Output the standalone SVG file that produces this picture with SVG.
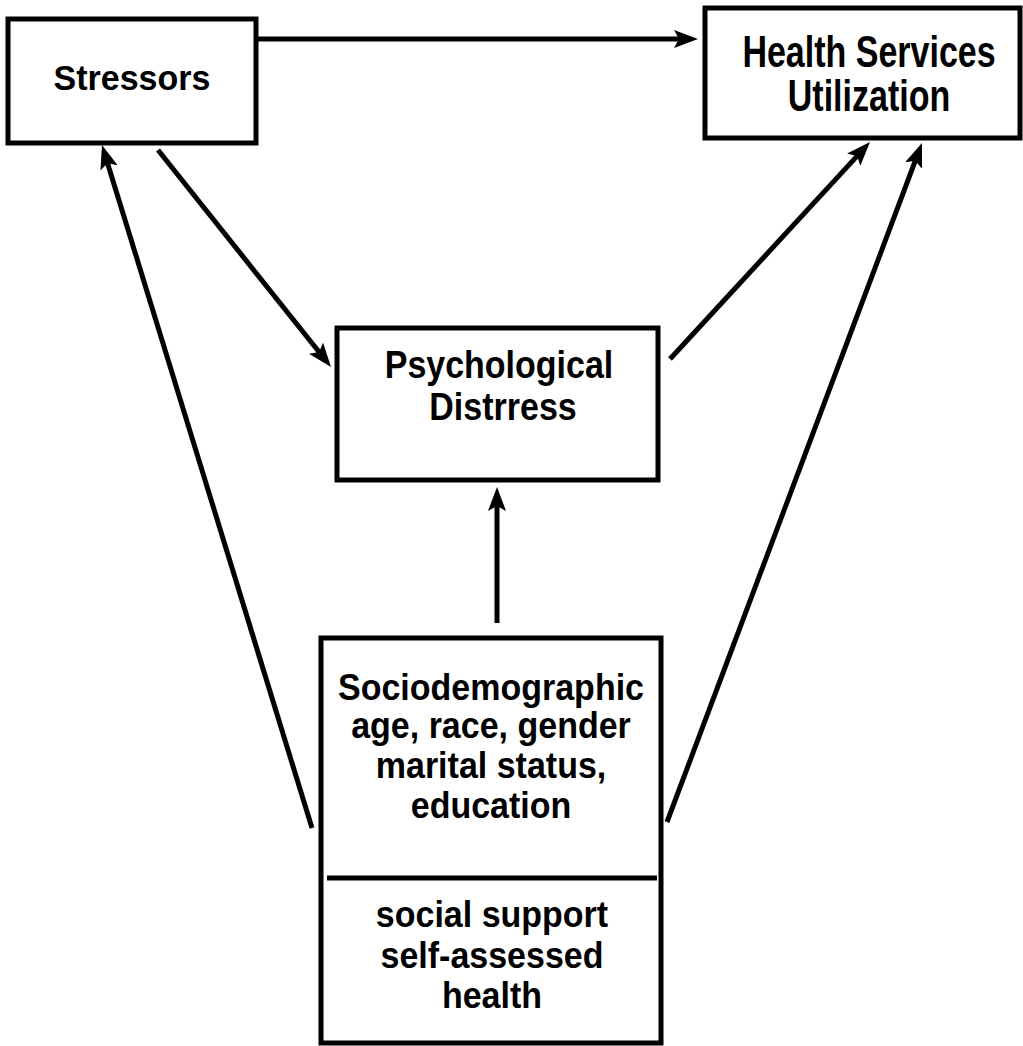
<svg xmlns="http://www.w3.org/2000/svg" width="1023" height="1046" viewBox="0 0 1023 1046">
<style>
.box{fill:#fff;stroke:#000;stroke-width:5}
.lbl{font-family:"Liberation Sans",Arial,Helvetica,sans-serif;font-weight:bold;font-size:34px;fill:#000;text-anchor:middle}
.conn{stroke:#000;stroke-width:5;fill:none;marker-end:url(#arr)}
</style>
<defs>
<marker id="arr" markerUnits="userSpaceOnUse" markerWidth="26" markerHeight="20" refX="11" refY="9" orient="auto">
<path d="M0,0 L24,9 L0,18 L5,9 z" fill="#000"/>
</marker>
</defs>
<rect width="1023" height="1046" fill="#fff"/>
<g id="connectors">
<line class="conn" x1="256" y1="39" x2="685" y2="39"/>
<line class="conn" x1="158" y1="150" x2="322.9" y2="356.8"/>
<line class="conn" x1="312" y1="828" x2="105.8" y2="157.4"/>
<line class="conn" x1="670" y1="359" x2="861.2" y2="151.6"/>
<line class="conn" x1="667" y1="822" x2="917.4" y2="155.2"/>
<line class="conn" x1="497" y1="623" x2="497" y2="500"/>
</g>
<g id="stressors">
<rect class="box" x="8" y="19" width="248" height="124"/>
<text class="lbl" transform="translate(132,90) scale(1,1.05)">Stressors</text>
</g>
<g id="health-services">
<rect class="box" x="705" y="8" width="315" height="130"/>
<text class="lbl" transform="translate(869,67) scale(1,1.28)">Health Services</text>
<text class="lbl" transform="translate(869,111) scale(1,1.28)">Utilization</text>
</g>
<g id="psychological-distress">
<rect class="box" x="337" y="328" width="321" height="152"/>
<text class="lbl" transform="translate(499,378) scale(1,1.13)">Psychological</text>
<text class="lbl" transform="translate(503,420) scale(1,1.13)">Distrress</text>
</g>
<g id="sociodemographic">
<rect class="box" x="321" y="638" width="340" height="405"/>
<line x1="327" y1="878" x2="657" y2="878" stroke="#000" stroke-width="5"/>
<text class="lbl" transform="translate(491,700) scale(1,1.1)">Sociodemographic</text>
<text class="lbl" transform="translate(491,738) scale(1,1.1)">age, race, gender</text>
<text class="lbl" transform="translate(491,778) scale(1,1.1)">marital status,</text>
<text class="lbl" transform="translate(491,818) scale(1,1.1)">education</text>
<text class="lbl" transform="translate(492,927) scale(1,1.1)">social support</text>
<text class="lbl" transform="translate(492,968) scale(1,1.1)">self-assessed</text>
<text class="lbl" transform="translate(492,1008) scale(1,1.1)">health</text>
</g>
</svg>
